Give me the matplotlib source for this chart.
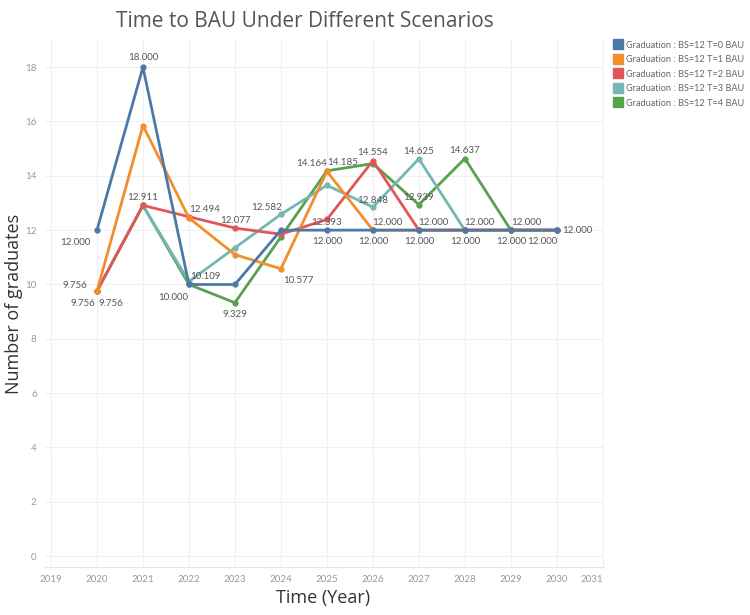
import matplotlib.pyplot as plt
from matplotlib.lines import Line2D

years = [2020, 2021, 2022, 2023, 2024, 2025, 2026, 2027, 2028, 2029, 2030]
t0 = [12.0, 18.0, 10.0, 10.0, 12.0, 12.0, 12.0, 12.0, 12.0, 12.0, 12.0]
t1 = [9.756, 15.85, 12.45, 11.1, 10.577, 14.164, 12.0, 12.0, 12.0, 12.0, 12.0]
t2 = [9.756, 12.911, 12.494, 12.077, 11.85, 12.393, 14.554, 12.0, 12.0, 12.0, 12.0]
t3 = [9.756, 12.911, 10.109, 11.35, 12.582, 13.65, 12.848, 14.625, 12.0, 12.0, 12.0]
t4 = [9.756, 12.911, 10.0, 9.329, 11.75, 14.185, 14.45, 12.939, 14.637, 12.0, 12.0]

names = ["Graduation : BS=12 T=0 BAU", "Graduation : BS=12 T=1 BAU",
         "Graduation : BS=12 T=2 BAU", "Graduation : BS=12 T=3 BAU",
         "Graduation : BS=12 T=4 BAU"]
series = [t0, t1, t2, t3, t4]
colors = ["#4e79a7", "#f28e2b", "#e15759", "#76b7b2", "#59a14f"]
zorders = [7, 6, 5, 4, 3]

# which point gets a label, and where it sits (pixel offsets)
labels = [
    (0, 2020, -22, -12), (0, 2021, 0, 10), (1, 2020, -22, 6),
    (2, 2020, -14, -12), (3, 2020, 14, -12),
    (2, 2021, 0, 8), (2, 2022, 16, 7), (2, 2023, 0, 8), (3, 2024, -14, 7),
    (3, 2022, 16, 5), (0, 2022, -16, -13), (4, 2023, 0, -12),
    (1, 2024, 17, -12), (2, 2025, 0, -3), (0, 2025, 0, -11),
    (1, 2025, -15, 8), (4, 2025, 16, 8),
    (2, 2026, 0, 8), (3, 2026, 0, 7), (1, 2026, 14, 8), (0, 2026, 0, -11),
    (3, 2027, 0, 7), (4, 2027, 0, 7), (2, 2027, 14, 8), (0, 2027, 0, -11),
    (4, 2028, 0, 8), (3, 2028, 14, 8), (0, 2028, 0, -11),
    (4, 2029, 15, 8), (0, 2029, 0, -11), (0, 2030, -15, -11),
]

plt.rcParams['font.family'] = ['Lato', 'DejaVu Sans']

fig = plt.figure(figsize=(7.5, 6.15), dpi=100)
ax = fig.add_axes([0.06, 0.078, 0.745, 0.857])

for s, c, z in zip(series, colors, zorders):
    ax.plot(years, s, color=c, lw=2, marker='o', ms=3.5, zorder=z)

for i, yr, dx, dy in labels:
    v = series[i][years.index(yr)]
    ax.annotate(f"{v:.3f}", (yr, v), xytext=(dx, dy), textcoords='offset pixels',
                ha='center', va='center', fontsize=7, color='#555555', zorder=10)
ax.annotate(f"{t0[-1]:.3f}", (years[-1], t0[-1]), xytext=(5, 0), textcoords='offset pixels',
            ha='left', va='center', fontsize=7, color='#555555', zorder=10)

ax.set_xlim(2018.87, 2031.02)
ax.set_ylim(-0.4, 19.0)
xt = list(range(2019, 2032))
ax.set_xticks(xt)
ax.set_xticklabels([str(x) for x in xt])
ax.get_xticklabels()[-1].set_ha('right')
ax.set_yticks(range(0, 19, 2))
ax.tick_params(length=0, labelsize=7, colors='#999999', pad=6)
ax.grid(True, color='#f0f0f0', lw=0.8)
ax.set_axisbelow(True)
for sp in ax.spines.values():
    sp.set_visible(False)
ax.spines['bottom'].set_visible(True)
ax.spines['bottom'].set_color('#e6e6e6')

ax.set_xlabel("Time (Year)", fontsize=13, color='#333333', family=['Open Sans', 'DejaVu Sans'])
ax.set_ylabel("Number of graduates", fontsize=13, color='#333333', family=['Open Sans', 'DejaVu Sans'])
ax.xaxis.set_label_coords(0.497, -0.059)
ax.yaxis.set_label_coords(-0.056, 0.5)
ax.yaxis.label.set_va('center')
ax.xaxis.label.set_va('center')
fig.text(0.407, 0.965, "Time to BAU Under Different Scenarios", ha='center', va='center',
         fontsize=15, color='#555555', family=['Open Sans', 'DejaVu Sans'])

handles = [Line2D([], [], marker='s', ls='', ms=7.5, color=c) for c in colors]
fig.legend(handles, names, loc='upper left', bbox_to_anchor=(0.812, 0.94), frameon=False,
           fontsize=6.6, labelcolor='#666666', handletextpad=0.3, labelspacing=0.6,
           handlelength=1.2, borderaxespad=0)

fig.savefig("out.png", dpi=100)
